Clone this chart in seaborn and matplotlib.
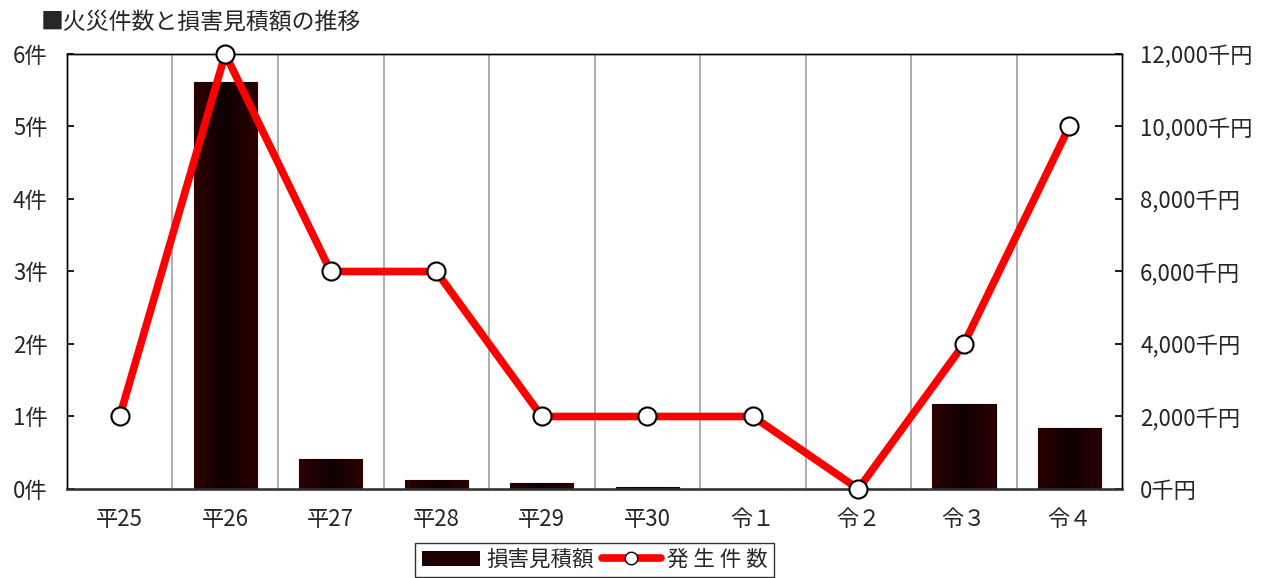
import numpy as np
import seaborn as sns
import matplotlib.pyplot as plt
from matplotlib.patches import Patch
from matplotlib.lines import Line2D

# データ
years = ['平25', '平26', '平27', '平28', '平29', '平30', '令１', '令２', '令３', '令４']
damage = [10, 11230, 830, 250, 165, 55, 0, 0, 2340, 1680]   # 損害見積額（千円）
fires = [1, 6, 3, 3, 1, 1, 1, 0, 2, 5]                        # 発生件数

sns.set_theme(style='white')
plt.rcParams['font.family'] = ['Noto Sans CJK JP', 'DejaVu Sans']

fig, ax = plt.subplots(figsize=(12.68, 5.78), dpi=100)
fig.subplots_adjust(left=0.0528, right=0.885, top=0.9066, bottom=0.154)
ax2 = ax.twinx()

# 棒グラフ（損害見積額）右軸
sns.barplot(x=years, y=damage, ax=ax2, width=0.6, color='#2a0000',
            edgecolor='black', linewidth=0.8, zorder=2)
grad = np.abs(np.linspace(-1, 1, 256))[None, :]
cmap = plt.matplotlib.colors.LinearSegmentedColormap.from_list('g', ['#0e0000', '#2e0000'])
for p in ax2.patches:
    x0, y0 = p.get_x(), p.get_y()
    w, h = p.get_width(), p.get_height()
    if h <= 0:
        continue
    im = ax2.imshow(grad, extent=(x0, x0 + w, y0, y0 + h), aspect='auto',
                    cmap=cmap, zorder=2.5)
    im.set_clip_path(p)

# 折れ線（発生件数）左軸
sns.lineplot(x=np.arange(len(years)), y=fires, ax=ax, color='#ff0000', lw=5.5,
             marker='o', markersize=13, markerfacecolor='white',
             markeredgecolor='black', markeredgewidth=1.5, zorder=5, clip_on=False)

ax.set_zorder(ax2.get_zorder() + 1)
ax.patch.set_visible(False)

ax.set_xlim(-0.5, len(years) - 0.5)
ax.set_ylim(0, 6)
ax2.set_ylim(0, 12000)
ax.set_yticks(range(7))
ax.set_yticklabels([f'{i}件' for i in range(7)], fontsize=16)
ax2.set_yticks(range(0, 12001, 2000))
ax2.set_yticklabels([f'{v:,}千円' for v in range(0, 12001, 2000)], fontsize=16)
ax2.set_ylabel('')
ax.set_xticks(range(len(years)))
ax.set_xticklabels(years, fontsize=16)
ax.tick_params(axis='x', length=0, pad=14)
ax.tick_params(axis='y', direction='in', length=5, color='black', pad=14)
ax2.tick_params(axis='y', direction='in', length=5, color='black', pad=13)

for i in range(len(years) - 1):
    ax2.axvline(i + 0.5, color='#a0a0a0', lw=1.2, zorder=1)

for a in (ax, ax2):
    for s in a.spines.values():
        s.set_color('black')
        s.set_linewidth(1)
ax.spines['bottom'].set_linewidth(1.8)
ax.spines['bottom'].set_color('#333333')

fig.text(0.032, 0.962, '■火災件数と損害見積額の推移', fontsize=16.5, va='center')

handles = [Patch(facecolor='#1e0000', edgecolor='none'),
           Line2D([0], [0], color='#ff0000', lw=5.5, marker='o', markersize=9,
                  markerfacecolor='white', markeredgecolor='black')]
leg = fig.legend(handles, ['損害見積額', '発 生 件 数'], ncol=2, loc='upper center',
                 bbox_to_anchor=(0.469, 0.08), fontsize=15.5, frameon=True,
                 fancybox=False, edgecolor='black', handlelength=2.7,
                 handletextpad=0.3, columnspacing=0.4, borderpad=0.3)
leg.get_frame().set_linewidth(1)

fig.savefig('out.png', dpi=100)
